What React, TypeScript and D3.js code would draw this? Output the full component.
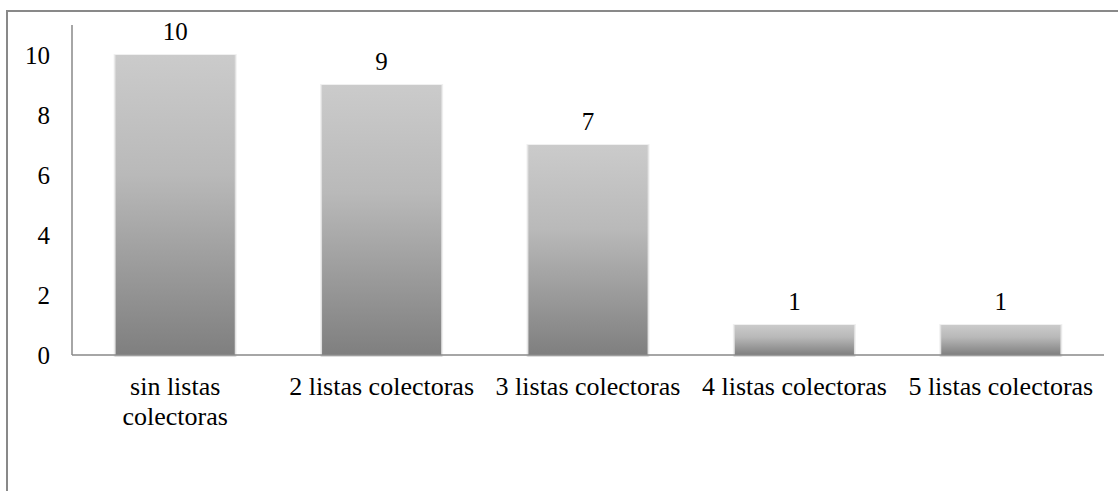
import React from "react";
import * as d3 from "d3";

const categories: string[] = [
  "sin listas colectoras",
  "2 listas colectoras",
  "3 listas colectoras",
  "4 listas colectoras",
  "5 listas colectoras",
];
const values: number[] = [10, 9, 7, 1, 1];
const yTicks: number[] = [0, 2, 4, 6, 8, 10];

const W = 1118;
const H = 491;
const FONT = '"Liberation Serif"';
const CAT_SIZE = 26;
const NUM_SIZE = 25;

const left = 72;
const right = 1104;
const top = 25;
const bottom = 355;

const canvas = document.createElement("canvas");
const ctx = canvas.getContext("2d");

function measure(s: string, size: number): number {
  if (!ctx) return s.length * size * 0.45;
  ctx.font = `${size}px ${FONT}`;
  return ctx.measureText(s).width;
}

function wrap(label: string, maxW: number): string[] {
  const words = label.split(" ");
  const lines: string[] = [];
  let cur: string[] = [];
  words.forEach((w) => {
    const trial = [...cur, w].join(" ");
    if (cur.length > 0 && measure(trial, CAT_SIZE) > maxW) {
      lines.push(cur.join(" "));
      cur = [w];
    } else {
      cur.push(w);
    }
  });
  if (cur.length) lines.push(cur.join(" "));
  return lines;
}

export default function App() {
  const x = d3.scaleBand<string>().domain(categories).range([left, right]).padding(0);
  const y = d3.scaleLinear().domain([0, 11]).range([bottom, top]);
  const barW = x.bandwidth() * 0.577;
  const textStyle = { fontFamily: FONT };

  return (
    <svg width={W} height={H} style={{ position: "absolute", left: 0, top: 0 }}>
      <defs>
        <linearGradient id="barGrad" x1="0" y1="0" x2="0" y2="1">
          <stop offset="0%" stopColor="#cbcbcb" />
          <stop offset="40%" stopColor="#b9b9b9" />
          <stop offset="100%" stopColor="#7f7f7f" />
        </linearGradient>
      </defs>
      <rect x={7} y={11} width={1300} height={700} fill="#fff" stroke="#898989" strokeWidth={2} />
      {values.map((v, i) => {
        const bx = (x(categories[i]) as number) + (x.bandwidth() - barW) / 2;
        return (
          <g key={categories[i]}>
            <rect
              x={bx - 2}
              y={y(v) - 1}
              width={barW + 4}
              height={y(0) - y(v) + 3}
              fill="#000"
              opacity={0.06}
            />
            <rect
              x={bx - 1}
              y={y(v)}
              width={barW + 2}
              height={y(0) - y(v) + 2}
              fill="#000"
              opacity={0.08}
            />
            <rect x={bx} y={y(v)} width={barW} height={y(0) - y(v)} fill="url(#barGrad)" />
          </g>
        );
      })}
      <line x1={left} x2={left} y1={y(11)} y2={y(0)} stroke="#898989" strokeWidth={1.5} />
      <line x1={left} x2={right} y1={y(0)} y2={y(0)} stroke="#898989" strokeWidth={1.5} />
      {yTicks.map((t) => (
        <text
          key={t}
          x={50 - measure(String(t), NUM_SIZE)}
          y={y(t) + 9}
          fontSize={NUM_SIZE}
          style={textStyle}
        >
          {t}
        </text>
      ))}
      {values.map((v, i) => (
        <text
          key={"v" + i}
          x={(x(categories[i]) as number) + x.bandwidth() / 2 - measure(String(v), NUM_SIZE) / 2}
          y={y(v) - 15}
          fontSize={NUM_SIZE}
          style={textStyle}
        >
          {v}
        </text>
      ))}
      {categories.map((c) => {
        const cx = (x(c) as number) + x.bandwidth() / 2;
        const lines = wrap(c, 190);
        return lines.map((ln, j) => (
          <text
            key={c + j}
            x={cx - measure(ln, CAT_SIZE) / 2}
            y={395 + j * 30}
            fontSize={CAT_SIZE}
            style={textStyle}
          >
            {ln}
          </text>
        ));
      })}
    </svg>
  );
}
